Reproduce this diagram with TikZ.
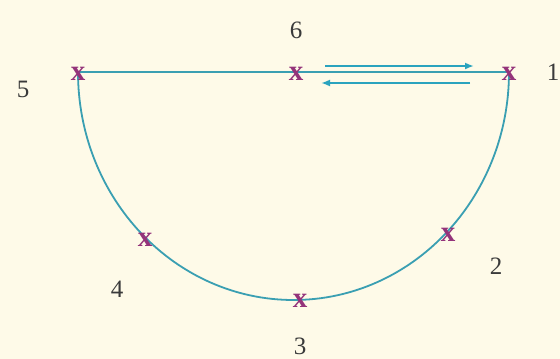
\documentclass[tikz,border=0pt]{standalone}
\usepackage{fontspec}
\setmainfont{Liberation Serif}
\usetikzlibrary{arrows.meta}
\definecolor{bg}{HTML}{FEFAE8}
\definecolor{curve}{HTML}{3A9FB2}
\definecolor{arr}{HTML}{2AA3BE}
\definecolor{mark}{HTML}{94337A}
\definecolor{lab}{HTML}{3A3A3A}
\tikzset{
  xmark/.style={text=mark, font=\bfseries\fontsize{29}{29}\selectfont, inner sep=0pt, anchor=center, yshift=-2pt},
  numlab/.style={text=lab, font=\fontsize{25}{25}\selectfont, inner sep=0pt},
  curveline/.style={draw=curve, line width=1.8pt},
  flow/.style={draw=arr, line width=2.2pt, -{Latex[length=9pt,width=7pt]}}
}
\begin{document}
\begin{tikzpicture}[x=1pt,y=-1pt]
\useasboundingbox[fill=bg] (0,0) rectangle (560,359);
% path
\coordinate (c5) at (78,72);
\coordinate (c1) at (509,72);
\draw[curveline] (c5) -- (c1);
\draw[curveline] (c5) arc[start angle=180, end angle=0, x radius=215.5, y radius=228];
% marks
\node[xmark] (p5) at (78,72) {x};
\node[xmark] (p6) at (296,72) {x};
\node[xmark] (p1) at (509,72) {x};
\node[xmark] (p4) at (145,238) {x};
\node[xmark] (p2) at (448,233) {x};
\node[xmark] (p3) at (300,299) {x};
% arrows
\coordinate (a1s) at (325,66);
\coordinate (a1e) at (474,66);
\coordinate (a2s) at (470,83);
\coordinate (a2e) at (321,83);
\draw[flow] (a1s) -- (a1e);
\draw[flow] (a2s) -- (a2e);
% labels
\node[numlab] (l5) at (23,89) {5};
\node[numlab] (l6) at (296,30) {6};
\node[numlab] (l1) at (553,72) {1};
\node[numlab] (l2) at (496,266) {2};
\node[numlab] (l4) at (117,289) {4};
\node[numlab] (l3) at (300,346) {3};
\end{tikzpicture}
\end{document}
